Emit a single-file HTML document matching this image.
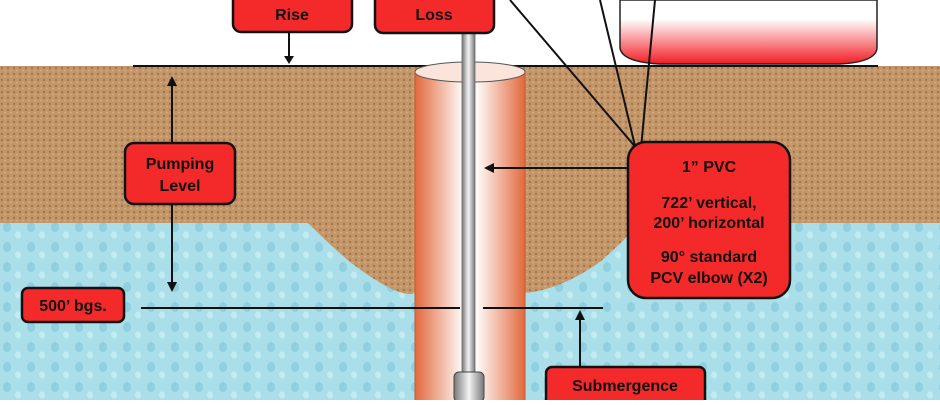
<!DOCTYPE html>
<html><head><style>
body{margin:0;width:940px;height:400px;overflow:hidden;background:#fff}
svg text{font-family:"Liberation Sans",sans-serif;font-weight:bold;font-size:16px;fill:#111;text-anchor:middle}
</style></head><body>
<svg width="940" height="400" viewBox="0 0 940 400">
<defs>
<linearGradient id="cas" x1="0" x2="1"><stop offset="0" stop-color="#e2683c"/><stop offset="0.45" stop-color="#fff"/><stop offset="0.55" stop-color="#fff"/><stop offset="1" stop-color="#e2683c"/></linearGradient>
<linearGradient id="pipe" x1="0" x2="1"><stop offset="0" stop-color="#777"/><stop offset="0.5" stop-color="#f4f4f4"/><stop offset="1" stop-color="#777"/></linearGradient>
<linearGradient id="tank" x1="0" y1="0" x2="0" y2="1"><stop offset="0.3" stop-color="#fff"/><stop offset="1" stop-color="#f21c24"/></linearGradient>
<pattern id="sand" width="6" height="6" patternUnits="userSpaceOnUse"><rect width="6" height="6" fill="#c4976a"/><circle cx="2" cy="2" r="1.2" fill="#a8784a"/><circle cx="5" cy="4.5" r="0.8" fill="#dcb48a"/></pattern>
<pattern id="water" width="24" height="20" patternUnits="userSpaceOnUse"><rect width="24" height="20" fill="#aadfea"/><ellipse cx="7" cy="7" rx="4" ry="5" fill="#8fcfdf"/><ellipse cx="18" cy="15" rx="3" ry="3.5" fill="#c3ebf2"/></pattern>
</defs>
<rect x="0" y="66" width="940" height="158" fill="url(#sand)"/>
<rect x="0" y="223" width="940" height="177" fill="url(#water)"/>
<path d="M308,223 Q330,245 350,262 Q400,300 415,293 L525,293 Q560,290 600,262 Q625,240 640,223 Z" fill="url(#sand)"/>
<!-- tank -->
<path d="M620,0 L620,48 Q622,62 660,64 L840,64 Q876,62 877,48 L877,0 Z" fill="url(#tank)" stroke="#222" stroke-width="1.5"/>
<line x1="133" y1="66" x2="878" y2="66" stroke="#111" stroke-width="2"/>
<!-- casing -->
<rect x="415" y="72" width="110" height="330" fill="url(#cas)"/>
<ellipse cx="470" cy="72" rx="55" ry="10" fill="#fbe4dc" stroke="#555" stroke-width="1"/>
<line x1="415" y1="72" x2="415" y2="400" stroke="#c85a30"/><line x1="525" y1="72" x2="525" y2="400" stroke="#c85a30"/>
<rect x="462" y="30" width="13" height="345" fill="url(#pipe)" stroke="#666" stroke-width="0.8"/>
<rect x="454" y="372" width="30" height="30" rx="5" fill="url(#pipe)" stroke="#444"/>
<!-- lines from tank -->
<g stroke="#111" stroke-width="2" fill="none">
<line x1="510" y1="0" x2="638" y2="150"/><line x1="600" y1="0" x2="636" y2="150"/><line x1="655" y1="0" x2="641" y2="148"/>
<line x1="289" y1="32" x2="289" y2="58"/>
<line x1="628" y1="168" x2="492" y2="168"/>
<line x1="172" y1="84" x2="172" y2="143"/><line x1="172" y1="204" x2="172" y2="284"/>
<line x1="141" y1="308" x2="460" y2="308"/><line x1="483" y1="308" x2="603" y2="308"/>
<line x1="580" y1="366" x2="580" y2="318"/>
</g>
<g fill="#111">
<path d="M284,56 L294,56 L289,64 Z"/><path d="M494,163 L494,173 L484,168 Z"/>
<path d="M167,86 L177,86 L172,76 Z"/><path d="M167,282 L177,282 L172,292 Z"/>
<path d="M575,320 L585,320 L580,310 Z"/>
</g>
<g fill="#f42a2a" stroke="#111" stroke-width="2.5">
<rect x="233" y="-10" width="119" height="42" rx="8"/>
<rect x="375" y="-10" width="119" height="43" rx="8"/>
<rect x="125" y="143" width="110" height="61" rx="9"/>
<rect x="628" y="142" width="162" height="156" rx="18"/>
<rect x="22" y="288" width="102" height="34" rx="6"/>
<rect x="546" y="367" width="159" height="40" rx="6"/>
</g>
<text x="292" y="20">Rise</text>
<text x="434" y="20">Loss</text>
<text x="180" y="169">Pumping</text><text x="180" y="191">Level</text>
<text x="709" y="172">1” PVC</text>
<text x="709" y="208">722’ vertical,</text><text x="709" y="228">200’ horizontal</text>
<text x="709" y="262">90° standard</text><text x="709" y="283">PCV elbow (X2)</text>
<text x="73" y="311">500’ bgs.</text>
<text x="625" y="391">Submergence</text>
</svg>
</body></html>
